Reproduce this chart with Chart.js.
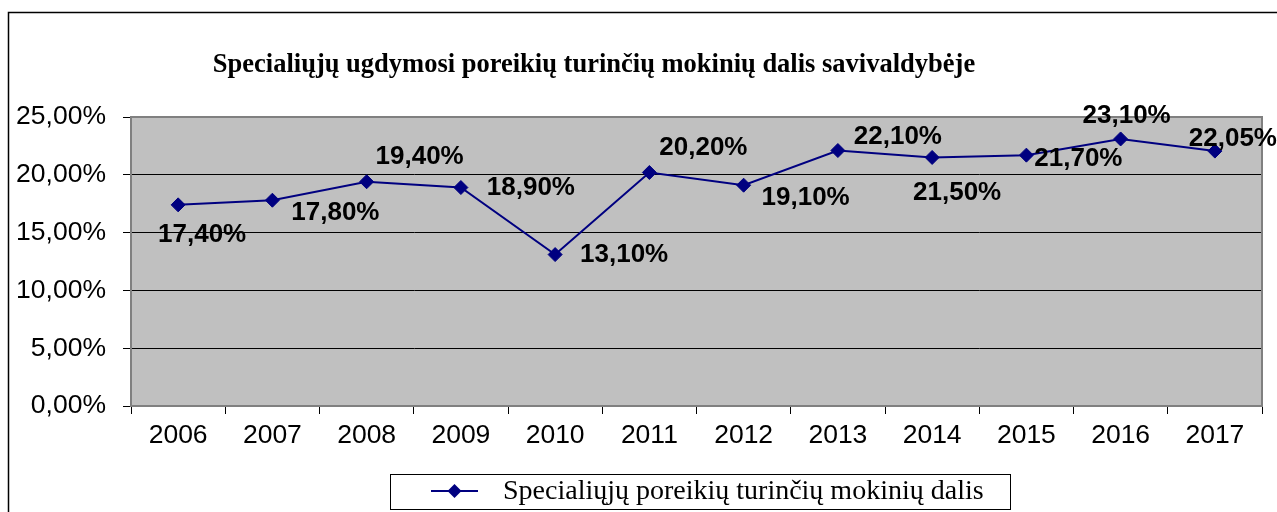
<!DOCTYPE html>
<html><head><meta charset="utf-8">
<script src="https://cdn.jsdelivr.net/npm/chart.js@4"></script>
<style>html,body{margin:0;padding:0;background:#fff;overflow:hidden}</style>
</head><body>
<canvas id="c" width="1277" height="512"></canvas>
<script>
const chartTitle = 'Specialiųjų ugdymosi poreikių turinčių mokinių dalis savivaldybėje';
const seriesName = 'Specialiųjų poreikių turinčių mokinių dalis';
const years = ['2006','2007','2008','2009','2010','2011','2012','2013','2014','2015','2016','2017'];
const shares = [17.40, 17.80, 19.40, 18.90, 13.10, 20.20, 19.10, 22.10, 21.50, 21.70, 23.10, 22.05];
const yTickValues = [0, 5, 10, 15, 20, 25];

const fmtPct = v => Number(v).toFixed(2).replace('.', ',') + '%';
const NAVY = '#000080';
const SANS = '"Liberation Sans", Arial, sans-serif';
const SERIF = '"Liberation Serif", "Times New Roman", serif';

// label placement relative to each point (label centre offset)
const labelOffsets = [[24,30],[63,13],[53,-25],[70,0],[69,0],[54,-25],[62,13],[60,-14],[25,35],[52,4],[6,-23],[18,-12]];

const decor = {
  id: 'decor',
  beforeDraw(chart) {
    const ctx = chart.ctx, a = chart.chartArea;
    ctx.save();
    ctx.fillStyle = '#fff';
    ctx.fillRect(0, 0, chart.width, chart.height);
    // outer frame
    ctx.strokeStyle = '#000';
    ctx.lineWidth = 1.5;
    ctx.strokeRect(8.5, 12.5, 1300, 560);
    // plot background
    ctx.fillStyle = '#C0C0C0';
    ctx.fillRect(a.left, a.top, a.right - a.left, a.bottom - a.top);
    // title
    ctx.fillStyle = '#000';
    ctx.font = 'bold 26.5px ' + SERIF;
    ctx.textAlign = 'center';
    ctx.textBaseline = 'alphabetic';
    ctx.fillText(chartTitle, 594, 72);
    // legend
    ctx.lineWidth = 1;
    ctx.strokeStyle = '#000';
    ctx.strokeRect(390.5, 474.5, 620, 35);
    ctx.strokeStyle = NAVY;
    ctx.lineWidth = 2;
    ctx.beginPath(); ctx.moveTo(431, 491); ctx.lineTo(478, 491); ctx.stroke();
    ctx.fillStyle = NAVY;
    ctx.beginPath();
    ctx.moveTo(454.5, 484); ctx.lineTo(461.5, 491); ctx.lineTo(454.5, 498); ctx.lineTo(447.5, 491);
    ctx.closePath(); ctx.fill();
    ctx.fillStyle = '#000';
    ctx.font = '28px ' + SERIF;
    ctx.textAlign = 'left';
    ctx.fillText(seriesName, 503, 499);
    ctx.restore();
  },
  beforeDatasetsDraw(chart) {
    const ctx = chart.ctx, a = chart.chartArea;
    ctx.save();
    ctx.strokeStyle = '#808080';
    ctx.lineWidth = 2;
    ctx.beginPath();
    ctx.moveTo(a.left, a.top); ctx.lineTo(a.right, a.top); ctx.lineTo(a.right, a.bottom);
    ctx.stroke();
    ctx.restore();
  },
  afterDatasetsDraw(chart) {
    const ctx = chart.ctx;
    const meta = chart.getDatasetMeta(0);
    ctx.save();
    ctx.fillStyle = '#000';
    ctx.font = 'bold 26px ' + SANS;
    ctx.textAlign = 'center';
    ctx.textBaseline = 'middle';
    meta.data.forEach((pt, i) => {
      const o = labelOffsets[i];
      ctx.fillText(fmtPct(shares[i]), pt.x + o[0], pt.y + o[1]);
    });
    ctx.restore();
  }
};

new Chart(document.getElementById('c'), {
  type: 'line',
  data: {
    labels: years,
    datasets: [{
      label: seriesName,
      data: shares,
      borderColor: NAVY,
      backgroundColor: NAVY,
      borderWidth: 2,
      pointStyle: 'rectRot',
      pointRadius: 7,
      pointBorderWidth: 1,
      pointBackgroundColor: NAVY,
      pointBorderColor: NAVY,
      tension: 0,
      fill: false
    }]
  },
  options: {
    responsive: false,
    animation: false,
    devicePixelRatio: 1,
    layout: { padding: { left: 8, right: 15, top: 117, bottom: 46 } },
    plugins: { legend: { display: false }, title: { display: false }, tooltip: { enabled: false } },
    scales: {
      x: {
        offset: true,
        grid: { display: true, drawOnChartArea: false, drawTicks: true, tickLength: 8, tickColor: '#000', tickWidth: 1, offset: true },
        border: { display: true, color: '#808080', width: 2 },
        ticks: { color: '#000', font: { family: SANS, size: 26.5 }, padding: 6, maxRotation: 0, autoSkip: false },
        afterFit(s) { s.height = 60; }
      },
      y: {
        min: 0, max: 25,
        afterBuildTicks(s) { s.ticks = yTickValues.map(v => ({ value: v })); },
        grid: { color: '#000', lineWidth: 1, drawTicks: true, tickLength: 8, tickColor: '#000' },
        border: { display: true, color: '#808080', width: 2 },
        ticks: { color: '#000', font: { family: SANS, size: 26.5 }, padding: 17, callback: v => fmtPct(v) },
        afterFit(s) { s.width = 123; }
      }
    }
  },
  plugins: [decor]
});
</script>
</body></html>
